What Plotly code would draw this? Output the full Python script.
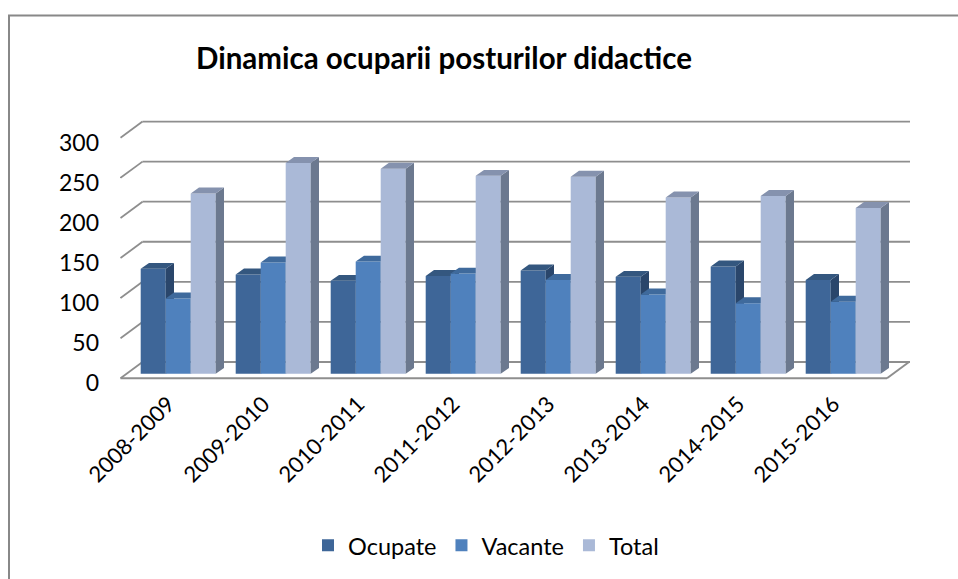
import plotly.graph_objects as go

# ---- data ----
categories = ["2008-2009", "2009-2010", "2010-2011", "2011-2012",
              "2012-2013", "2013-2014", "2014-2015", "2015-2016"]
ocupate = [131, 124, 116, 122, 129, 121, 134, 117]
vacante = [94, 139, 140, 125, 117, 99, 88, 90]
total = [225, 263, 256, 247, 246, 220, 222, 207]
y_ticks = [0, 50, 100, 150, 200, 250, 300]
series_names = ["Ocupate", "Vacante", "Total"]

# ---- styling / geometry ----
W, H = 958, 579
L_M, R_M, T_M, B_M = 120, 48, 110, 194
PW, PH = W - L_M - R_M, H - T_M - B_M
FONT = "Lato"

GROUP_PX = 95.0          # px per category
CENTER0_PX = 178.2       # px of first category center
Y_PX = 0.8133            # px per value unit
ZERO_PX = 365.7          # px of value 0 on the back wall

def dx_units(px):
    return px / GROUP_PX

def dy_units(px):
    return px / Y_PX

x_range = [(L_M - CENTER0_PX) / GROUP_PX, (W - R_M - CENTER0_PX) / GROUP_PX]
y_range = [(ZERO_PX - (H - B_M)) / Y_PX, (ZERO_PX - T_M) / Y_PX]

# floor / wall depth (oblique projection)
WALL_DX, WALL_DY = dx_units(22), dy_units(16.5)
# bar depth
BAR_DX, BAR_DY = dx_units(8.3), dy_units(6)
BASE = -dy_units(12)     # bars sit part-way into the floor depth
BAR_W = (1 - 0.2105) / 3

front = ["#3E6698", "#4F81BD", "#AAB9D7"]
top_c = ["#34577F", "#3F6A9C", "#8592AE"]
side_c = ["#2A466B", "#36608F", "#6C798F"]

def px_paper_x(px):
    return (px - L_M) / PW

def px_paper_y(py):
    return (H - B_M - py) / PH

fig = go.Figure()
values = [ocupate, vacante, total]

for i, (name, vals) in enumerate(zip(series_names, values)):
    ax = "" if i == 0 else str(i + 1)
    off = -3 * BAR_W / 2 + i * BAR_W
    xs = list(range(len(categories)))
    fig.add_trace(go.Bar(
        x=xs, y=vals, base=BASE, name=name, width=BAR_W, offset=off,
        marker=dict(color=front[i], line=dict(width=0)),
        xaxis="x" + ax, yaxis="y" + ax,
        hovertemplate="%{customdata}: " + name + " %{y}<extra></extra>",
        customdata=categories,
    ))
    tx, ty, sx, sy = [], [], [], []
    for k, v in enumerate(vals):
        left = k + off
        right = left + BAR_W
        t = BASE + v
        tx += [left, right, right + BAR_DX, left + BAR_DX, left, None]
        ty += [t, t, t + BAR_DY, t + BAR_DY, t, None]
        sx += [right, right, right + BAR_DX, right + BAR_DX, right, None]
        sy += [BASE, t, t + BAR_DY, BASE + BAR_DY, BASE, None]
    for px_, py_, col in ((sx, sy, side_c[i]), (tx, ty, top_c[i])):
        fig.add_trace(go.Scatter(
            x=px_, y=py_, mode="lines", fill="toself", fillcolor=col,
            line=dict(width=0, color=col), showlegend=False, hoverinfo="skip",
            xaxis="x" + ax, yaxis="y" + ax,
        ))

# back-wall gridlines and left-wall diagonals
GRID = "#8E8E8E"
back_left = x_range[0] + WALL_DX + dx_units(0.5)
front_left = back_left - WALL_DX
shapes = []
for v in y_ticks:
    shapes.append(dict(type="line", xref="x", yref="y", x0=back_left, x1=x_range[1],
                       y0=v, y1=v, line=dict(color=GRID, width=1.8), layer="below"))
    shapes.append(dict(type="line", xref="x", yref="y", x0=front_left, x1=back_left,
                       y0=v - WALL_DY, y1=v, line=dict(color=GRID, width=1.8), layer="below"))
# floor front and right edges
floor_right_front = x_range[1] - WALL_DX - dx_units(1)
shapes.append(dict(type="line", xref="x", yref="y", x0=front_left, x1=floor_right_front,
                   y0=-WALL_DY, y1=-WALL_DY, line=dict(color=GRID, width=2), layer="below"))
shapes.append(dict(type="line", xref="x", yref="y", x0=floor_right_front,
                   x1=floor_right_front + WALL_DX, y0=-WALL_DY, y1=0,
                   line=dict(color=GRID, width=2), layer="below"))
# outer chart frame
shapes.append(dict(type="rect", xref="paper", yref="paper",
                   x0=px_paper_x(9), x1=px_paper_x(W + 10),
                   y0=px_paper_y(H + 10), y1=px_paper_y(14),
                   line=dict(color="#888888", width=2), fillcolor="rgba(0,0,0,0)"))

axis_hidden = dict(range=x_range, visible=False, fixedrange=True)
fig.update_layout(
    width=W, height=H,
    margin=dict(l=L_M, r=R_M, t=T_M, b=B_M),
    paper_bgcolor="white", plot_bgcolor="white",
    font=dict(family=FONT, color="#000000"),
    title=dict(text="<b>Dinamica ocuparii posturilor didactice</b>",
               x=444 / W, xanchor="center", y=1 - 59 / H, yanchor="middle",
               font=dict(family=FONT, size=29.5, color="#000000")),
    barmode="overlay",
    xaxis=dict(range=x_range, tickmode="array", tickvals=list(range(len(categories))),
               ticktext=categories, tickangle=-45, showgrid=False, zeroline=False,
               showline=False, ticks="", tickfont=dict(size=22, family=FONT),
               ticklabelshift=-10, ticklabelstandoff=5, fixedrange=True),
    yaxis=dict(range=y_range, tickmode="array", tickvals=y_ticks, showgrid=False,
               zeroline=False, showline=False, ticks="", ticklabelshift=21,
               ticklabelstandoff=20, tickfont=dict(size=23, family=FONT),
               fixedrange=True),
    xaxis2=dict(overlaying="x", matches="x", **axis_hidden),
    yaxis2=dict(overlaying="y", matches="y", range=y_range, visible=False, fixedrange=True),
    xaxis3=dict(overlaying="x", matches="x", **axis_hidden),
    yaxis3=dict(overlaying="y", matches="y", range=y_range, visible=False, fixedrange=True),
    legend=dict(orientation="h", x=px_paper_x(486), xanchor="center",
                y=px_paper_y(552), yanchor="middle",
                font=dict(size=23.5, family=FONT), bgcolor="rgba(0,0,0,0)",
                itemwidth=30, traceorder="normal"),
    shapes=shapes,
    showlegend=True,
)

fig.write_html("out.html")
